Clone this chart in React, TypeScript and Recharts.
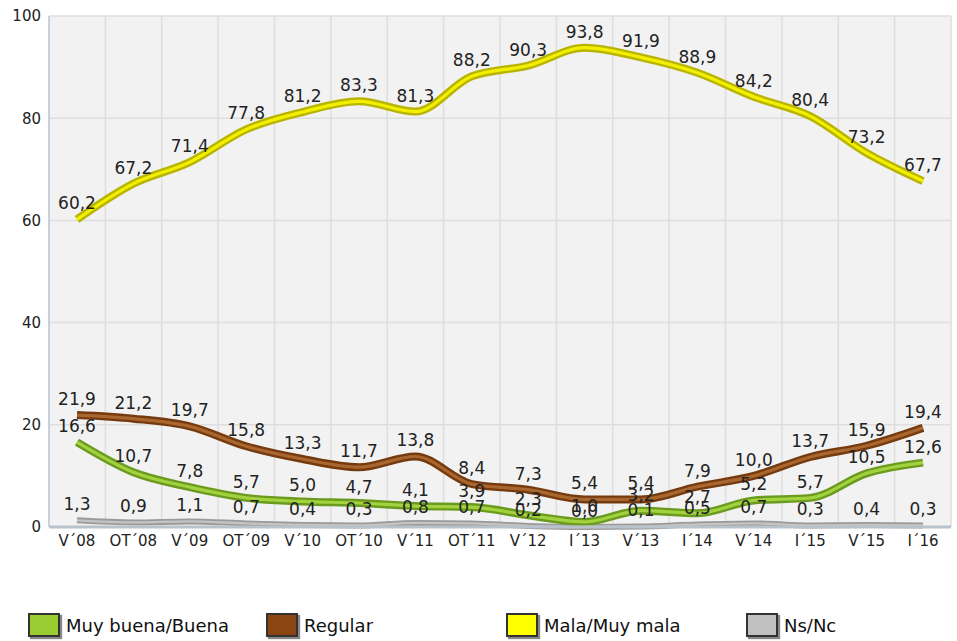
import React from 'react';
import { LineChart, Line, XAxis, YAxis, CartesianGrid, LabelList } from 'recharts';

const periods = ['V´08', 'OT´08', 'V´09', 'OT´09', 'V´10', 'OT´10', 'V´11', 'OT´11', 'V´12', 'I´13', 'V´13', 'I´14', 'V´14', 'I´15', 'V´15', 'I´16'];
const buena = [16.6, 10.7, 7.8, 5.7, 5.0, 4.7, 4.1, 3.9, 2.3, 1.0, 3.2, 2.7, 5.2, 5.7, 10.5, 12.6];
const regular = [21.9, 21.2, 19.7, 15.8, 13.3, 11.7, 13.8, 8.4, 7.3, 5.4, 5.4, 7.9, 10.0, 13.7, 15.9, 19.4];
const mala = [60.2, 67.2, 71.4, 77.8, 81.2, 83.3, 81.3, 88.2, 90.3, 93.8, 91.9, 88.9, 84.2, 80.4, 73.2, 67.7];
const nsnc = [1.3, 0.9, 1.1, 0.7, 0.4, 0.3, 0.8, 0.7, 0.2, 0.0, 0.1, 0.5, 0.7, 0.3, 0.4, 0.3];
const yTicks = [0, 20, 40, 60, 80, 100];

const data = periods.map((p, i) => ({
  period: p,
  buena: buena[i],
  regular: regular[i],
  mala: mala[i],
  nsnc: nsnc[i],
}));

interface SeriesStyle {
  key: string;
  name: string;
  outer: string;
  inner: string;
  width: number;
}

// drawn bottom-up: grey first so the others sit on top of it
const series: SeriesStyle[] = [
  { key: 'nsnc', name: 'Ns/Nc', outer: '#9a9a9a', inner: '#c4c4c4', width: 6 },
  { key: 'buena', name: 'Muy buena/Buena', outer: '#6a9a1e', inner: '#a2d23e', width: 8 },
  { key: 'regular', name: 'Regular', outer: '#753a0e', inner: '#a9662f', width: 8 },
  { key: 'mala', name: 'Mala/Muy mala', outer: '#b9b400', inner: '#f2f000', width: 8 },
];

const legendItems = [
  { name: 'Muy buena/Buena', color: '#9acd32', left: 28 },
  { name: 'Regular', color: '#8b4513', left: 266 },
  { name: 'Mala/Muy mala', color: '#ffff00', left: 506 },
  { name: 'Ns/Nc', color: '#c0c0c0', left: 746 },
];

const fmt = (v: unknown) => Number(v).toFixed(1).replace('.', ',');

const font = "'DejaVu Sans', Verdana, sans-serif";

export default function App() {
  return (
    <div style={{ position: 'absolute', left: 0, top: 0, width: 957, height: 641, background: '#fff', fontFamily: font }}>
      <LineChart width={957} height={560} data={data} margin={{ top: 16, right: 6, bottom: 0, left: 4 }}>
        <CartesianGrid
          fill="#f2f2f2"
          stroke="#dedede"
          strokeWidth={1.5}
          verticalCoordinatesGenerator={({ offset }: any) =>
            periods.map((_, i) => offset.left + (i + 1) * (offset.width / periods.length))
          }
        />
        <XAxis
          dataKey="period"
          padding={{ left: 28, right: 28 }}
          tick={{ fill: '#222', fontSize: 15, fontFamily: font }}
          tickLine={false}
          stroke="#b8c2cc"
          strokeWidth={3}
          height={33}
          interval={0}
        />
        <YAxis
          domain={[0, 100]}
          ticks={yTicks}
          tick={{ fill: '#222', fontSize: 15, fontFamily: font }}
          tickLine={false}
          stroke="#c8d2dc"
          strokeWidth={2}
          width={45}
        />
        {series.map((s) => (
          <Line
            key={s.key + '-outer'}
            type="monotone"
            dataKey={s.key}
            stroke={s.outer}
            strokeWidth={s.width}
            dot={false}
            activeDot={false}
            isAnimationActive={false}
          />
        ))}
        {series.map((s) => (
          <Line
            key={s.key + '-inner'}
            type="monotone"
            dataKey={s.key}
            stroke={s.inner}
            strokeWidth={s.width / 2.5}
            dot={false}
            activeDot={false}
            isAnimationActive={false}
          >
            <LabelList
              dataKey={s.key}
              position="top"
              offset={10}
              formatter={fmt}
              fill="#222"
              fontSize={17}
              fontFamily={font}
            />
          </Line>
        ))}
      </LineChart>
      {legendItems.map((item) => (
        <div
          key={item.name}
          style={{ position: 'absolute', left: item.left, top: 613, display: 'flex', alignItems: 'center' }}
        >
          <div
            style={{
              width: 28,
              height: 20,
              background: item.color,
              border: '2px solid #333',
              boxShadow: '2px 2px 1px #888',
            }}
          />
          <span style={{ marginLeft: 6, fontSize: 18, color: '#111' }}>{item.name}</span>
        </div>
      ))}
    </div>
  );
}
